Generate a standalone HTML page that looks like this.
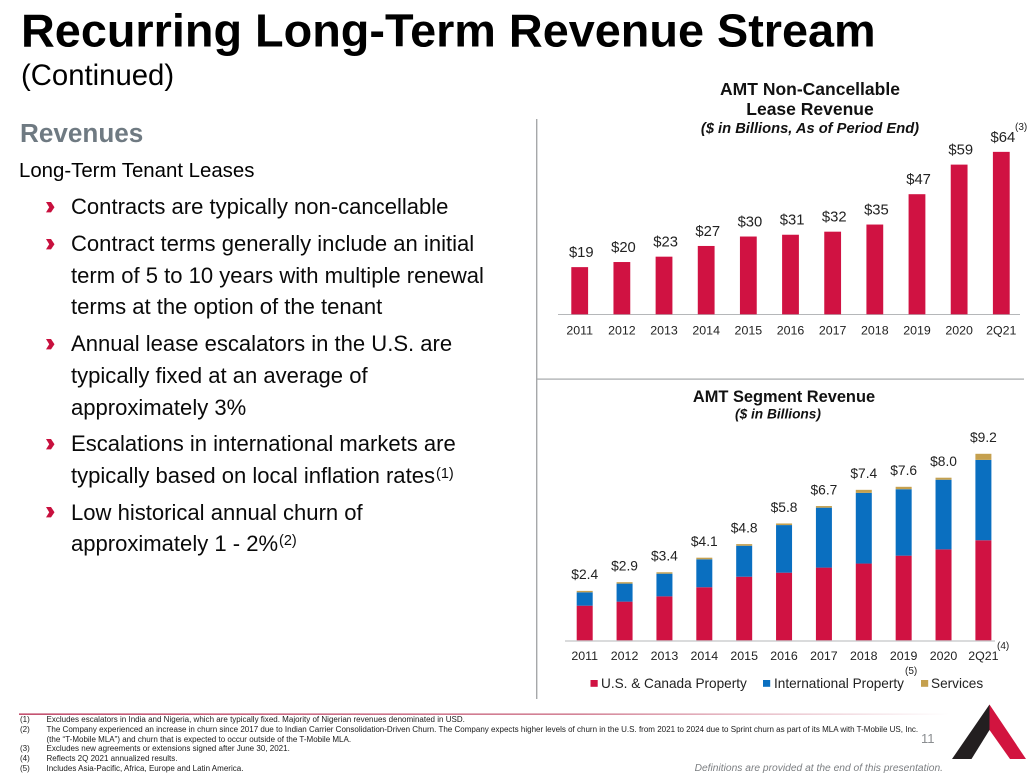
<!DOCTYPE html>
<html lang="en">
<head>
<meta charset="utf-8">
<title>Recurring Long-Term Revenue Stream</title>
<style>
html,body{margin:0;padding:0;background:#fff;}
body{width:1035px;height:779px;overflow:hidden;}
svg{display:block;}
text{font-family:"Liberation Sans",Arial,sans-serif;fill:#000;}
.body-text{font-size:22.05px;fill:#0a0a0a;}
.sup{font-size:14.5px;fill:#0a0a0a;}
.note{font-size:8.02px;fill:#1a1a1a;}
.tick{font-size:12.4px;fill:#222;text-anchor:middle;}
.val{fill:#222;text-anchor:middle;}
.chart-sup{font-size:10px;fill:#222;}
.chart-title{font-weight:bold;fill:#111;text-anchor:middle;}
.chart-sub{font-weight:bold;font-style:italic;fill:#111;text-anchor:middle;}
.legend{font-size:13.6px;fill:#222;}
</style>
</head>
<body>
<svg id="slide" xmlns="http://www.w3.org/2000/svg" width="1035" height="779" viewBox="0 0 1035 779">
  <defs>
    <linearGradient id="rule-fade" x1="0" x2="1" y1="0" y2="0">
      <stop offset="0" stop-color="#b5274d"/>
      <stop offset="0.6" stop-color="#c9677f"/>
      <stop offset="1" stop-color="#ffffff"/>
    </linearGradient>
    <polygon id="chevron" points="0,0 5,0 8.5,5.2 5,10.4 0,10.4 3.2,5.2" fill="#c8103e"/>
  </defs>

  <text x="21" y="46.5" font-size="46.8" font-weight="bold" fill="#000">Recurring Long-Term Revenue Stream</text>
  <text x="21" y="85" font-size="29.3">(Continued)</text>
  <text x="20" y="142" font-size="26.1" font-weight="bold" style="fill:#6f7a82">Revenues</text>
  <text x="19" y="177" font-size="20.4">Long-Term Tenant Leases</text>

  <g>
    <use href="#chevron" x="46" y="202"/>
    <text class="body-text" x="71" y="214">Contracts are typically non-cancellable</text>
    <use href="#chevron" x="46" y="239"/>
    <text class="body-text" x="71" y="251">Contract terms generally include an initial</text>
    <text class="body-text" x="71" y="283">term of 5 to 10 years with multiple renewal</text>
    <text class="body-text" x="71" y="314">terms at the option of the tenant</text>
    <use href="#chevron" x="46" y="339"/>
    <text class="body-text" x="71" y="351">Annual lease escalators in the U.S. are</text>
    <text class="body-text" x="71" y="383">typically fixed at an average of</text>
    <text class="body-text" x="71" y="415">approximately 3%</text>
    <use href="#chevron" x="46" y="439"/>
    <text class="body-text" x="71" y="451">Escalations in international markets are</text>
    <text class="body-text" x="71" y="483">typically based on local inflation rates</text>
    <text class="sup" x="436" y="478">(1)</text>
    <use href="#chevron" x="46" y="507"/>
    <text class="body-text" x="71" y="520">Low historical annual churn of</text>
    <text class="body-text" x="71" y="551">approximately 1 - 2%</text>
    <text class="sup" x="279" y="545">(2)</text>
  </g>

  <rect x="536" y="119" width="1.4" height="580" fill="#a6a8aa"/>
  <rect x="537" y="378.5" width="487" height="1.2" fill="#a6a8aa"/>

  <g id="lease-chart">
    <text class="chart-title" font-size="17.5" x="810" y="95">AMT Non-Cancellable</text>
    <text class="chart-title" font-size="17.5" x="810" y="115">Lease Revenue</text>
    <text class="chart-sub" font-size="14.7" x="810" y="133">($ in Billions, As of Period End)</text>
    <rect x="558" y="314" width="462" height="1" fill="#b5b7b9"/>
    <text class="chart-sup" x="1015" y="130">(3)</text>
  </g>

  <g id="segment-chart">
    <text class="chart-title" font-size="16.4" x="784" y="402">AMT Segment Revenue</text>
    <text class="chart-sub" font-size="13.7" x="778" y="418.5">($ in Billions)</text>
    <rect x="565" y="640.5" width="430" height="1" fill="#b5b7b9"/>
    <text class="chart-sup" x="997" y="649">(4)</text>
    <g>
      <rect x="590.5" y="680" width="7.2" height="6.8" fill="#d01242"/>
      <text class="legend" x="601" y="688">U.S. &amp; Canada Property</text>
      <rect x="763" y="680" width="7.2" height="6.8" fill="#0a6fc0"/>
      <text class="legend" x="774" y="688">International Property</text>
      <text class="chart-sup" x="905" y="674">(5)</text>
      <rect x="921" y="680" width="7.2" height="6.8" fill="#c5a04e"/>
      <text class="legend" x="931" y="688">Services</text>
    </g>
  </g>

  <rect x="19" y="713.5" width="930" height="1.3" fill="url(#rule-fade)"/>
  <g>
    <text class="note" x="20" y="722">(1)</text>
    <text class="note" x="46.5" y="722">Excludes escalators in India and Nigeria, which are typically fixed. Majority of Nigerian revenues denominated in USD.</text>
    <text class="note" x="20" y="732">(2)</text>
    <text class="note" x="46.5" y="732">The Company experienced an increase in churn since 2017 due to Indian Carrier Consolidation-Driven Churn. The Company expects higher levels of churn in the U.S. from 2021 to 2024 due to Sprint churn as part of its MLA with T-Mobile US, Inc.</text>
    <text class="note" x="46.5" y="742">(the “T-Mobile MLA”) and churn that is expected to occur outside of the T-Mobile MLA.</text>
    <text class="note" x="20" y="751">(3)</text>
    <text class="note" x="46.5" y="751">Excludes new agreements or extensions signed after June 30, 2021.</text>
    <text class="note" x="20" y="761">(4)</text>
    <text class="note" x="46.5" y="761">Reflects 2Q 2021 annualized results.</text>
    <text class="note" x="20" y="771">(5)</text>
    <text class="note" x="46.5" y="771">Includes Asia-Pacific, Africa, Europe and Latin America.</text>
  </g>
  <text x="921" y="743" font-size="13" style="fill:#8a8d90">11</text>
  <text x="943" y="771" font-size="10.25" font-style="italic" text-anchor="end" style="fill:#7b7e81">Definitions are provided at the end of this presentation.</text>
  <g>
    <polygon points="989.5,704.5 989.5,730 971.5,759 952,759" fill="#231f20"/>
    <polygon points="989.5,704.5 1026,759 1010,759 989.5,730" fill="#d2143f"/>
  </g>
</svg>

<script>
var leaseCategories = ['2011','2012','2013','2014','2015','2016','2017','2018','2019','2020','2Q21'];
var leaseValues = [18.5,20.5,22.6,26.8,30.5,31.2,32.4,35.2,47.1,58.7,63.7];
var leaseLabels = ['$19','$20','$23','$27','$30','$31','$32','$35','$47','$59','$64'];

var segmentCategories = ['2011','2012','2013','2014','2015','2016','2017','2018','2019','2020','2Q21'];
var usCanadaValues = [1.71,1.91,2.17,2.62,3.14,3.34,3.59,3.79,4.18,4.49,4.94];
var internationalValues = [0.66,0.89,1.12,1.38,1.53,2.35,2.96,3.49,3.28,3.44,3.97];
var servicesValues = [0.07,0.07,0.07,0.08,0.08,0.08,0.08,0.15,0.12,0.10,0.30];
var segmentLabels = ['$2.4','$2.9','$3.4','$4.1','$4.8','$5.8','$6.7','$7.4','$7.6','$8.0','$9.2'];

var SVG_NS = 'http://www.w3.org/2000/svg';
function mk(parent, tag, attrs, content) {
  var node = document.createElementNS(SVG_NS, tag);
  for (var k in attrs) { node.setAttribute(k, attrs[k]); }
  if (content !== undefined) { node.textContent = content; }
  parent.appendChild(node);
  return node;
}

/* lease chart axes */
function leaseX(i) { return 579.7 + i * 42.16; }
function leaseY(v) { return 314.3 - v * 2.55; }

var leaseGroup = document.getElementById('lease-chart');
leaseCategories.forEach(function (cat, i) {
  var top = leaseY(leaseValues[i]);
  var bar = mk(leaseGroup, 'rect', {x: leaseX(i) - 8.4, y: top, width: 16.8, height: 314.3 - top, fill: '#d01242'});
  
  
  var val = mk(leaseGroup, 'text', {'class': 'val', x: leaseX(i) + 1.6, y: top - 10, 'font-size': 14.8}, leaseLabels[i]);
  
  
  var tick = mk(leaseGroup, 'text', {'class': 'tick', x: leaseX(i), y: 334.5}, cat);
  
  
});

/* segment chart axes */
function segX(i) { return 584.7 + i * 39.87; }
function segY(v) { return 640.3 - v * 20.25; }

var segGroup = document.getElementById('segment-chart');
segmentCategories.forEach(function (cat, i) {
  var a = usCanadaValues[i];
  var b = a + internationalValues[i];
  var c = b + servicesValues[i];
  var red = mk(segGroup, 'rect', {x: segX(i) - 8, y: segY(a), width: 16, height: segY(0) - segY(a), fill: '#d01242'});
  
  
  var blue = mk(segGroup, 'rect', {x: segX(i) - 8, y: segY(b), width: 16, height: segY(a) - segY(b), fill: '#0a6fc0'});
  
  
  var gold = mk(segGroup, 'rect', {x: segX(i) - 8, y: segY(c), width: 16, height: segY(b) - segY(c), fill: '#c5a04e'});
  
  
  var val = mk(segGroup, 'text', {'class': 'val', x: segX(i), y: segY(c) - 11.7, 'font-size': 13.8}, segmentLabels[i]);
  
  
  var tick = mk(segGroup, 'text', {'class': 'tick', x: segX(i), y: 660}, cat);
  
  
});
</script>
</body>
</html>
